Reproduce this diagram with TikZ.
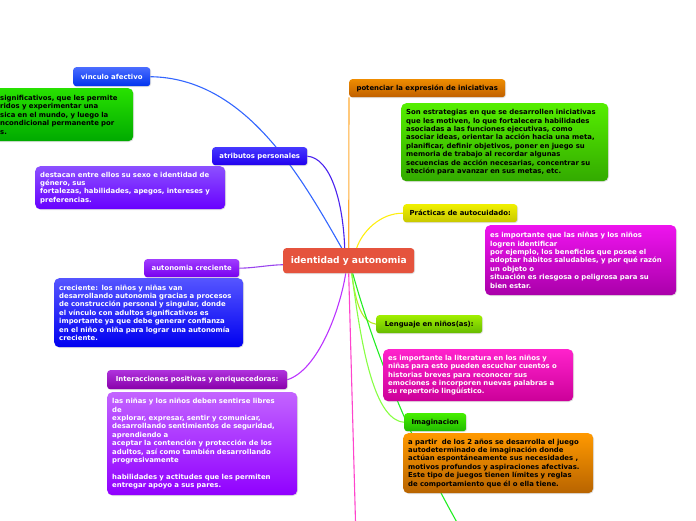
\documentclass[tikz,border=0pt]{standalone}
\usepackage{fontspec}
\setmainfont{DejaVu Sans}
\usetikzlibrary{shadows,backgrounds}

\definecolor{rootc}{HTML}{E5533D}
\definecolor{vincc}{HTML}{3366FF}
\definecolor{atric}{HTML}{4A22EE}
\definecolor{autoc}{HTML}{9944EE}
\definecolor{interc}{HTML}{BB33FF}
\definecolor{potc}{HTML}{FFAA33}
\definecolor{pracc}{HTML}{FFEE11}
\definecolor{lengc}{HTML}{B5EE22}
\definecolor{imagc}{HTML}{88FF44}
\definecolor{greenc}{HTML}{22EE22}
\definecolor{magc}{HTML}{FF44CC}

\begin{document}
\begin{tikzpicture}[x=1pt, y=-1pt,
    topic/.style={rectangle, rounded corners=3pt, anchor=north west, inner sep=2pt,
        font=\fontsize{6.9}{8.3}\selectfont\bfseries,
        drop shadow={shadow xshift=0.8pt, shadow yshift=-0.8pt, opacity=0.25}},
    note/.style={rectangle, rounded corners=5pt, anchor=north west, inner xsep=5pt,
        inner ysep=3pt, align=left, font=\fontsize{6.9}{8.4}\selectfont\bfseries,
        drop shadow={shadow xshift=0.8pt, shadow yshift=-0.8pt, opacity=0.25}},
    link/.style={line width=1.1pt}]
    \useasboundingbox (0,0) rectangle (696,520);

    % Central topic
    \node (root) [topic, minimum width=131pt, minimum height=25pt, fill=rootc, text=white,
        font=\fontsize{9.1}{10}\selectfont\bfseries] at (283,248) {identidad y autonomia};

    % Left branches
    \node (vinc) [topic, minimum width=77pt, minimum height=19pt, top color={rgb,255:red,74;green,108;blue,255}, bottom color={rgb,255:red,0;green,51;blue,238}, text=white] at (73,67) {vinculo afectivo};
    \node (vincN) [note, text width=125pt, inner xsep=8pt, minimum height=53pt, top color={rgb,255:red,40;green,225;blue,0}, bottom color={rgb,255:red,0;green,170;blue,0}, text=black] at (-8,88)
        {significativos, que les permite\\ridos y experimentar una\\sica en el mundo, y luego la\\ncondicional permanente por\\s.};

    \node (atri) [topic, minimum width=95pt, minimum height=18pt, top color={rgb,255:red,70;green,55;blue,255}, bottom color={rgb,255:red,34;green,0;blue,238}, text=white] at (212,147) {atributos personales};
    \node (atriN) [note, text width=180pt, minimum height=43pt, top color={rgb,255:red,140;green,80;blue,255}, bottom color={rgb,255:red,104;green,0;blue,255}, text=white] at (35,166)
        {destacan entre ellos su sexo e identidad de\\género, sus\\fortalezas, habilidades, apegos, intereses y\\preferencias.};

    \node (auto) [topic, minimum width=95pt, minimum height=18pt, top color={rgb,255:red,160;green,60;blue,255}, bottom color={rgb,255:red,119;green,0;blue,238}, text=white] at (144,259) {autonomia creciente};
    \node (autoN) [note, text width=179pt, minimum height=69pt, top color={rgb,255:red,85;green,85;blue,255}, bottom color={rgb,255:red,0;green,0;blue,240}, text=white] at (54,278)
        {creciente: los niños y niñas van\\desarrollando autonomia gracias a procesos\\de construcción personal y singular, donde\\el vínculo con adultos significativos es\\importante ya que debe generar confianza\\en el niño o niña para lograr una autonomía\\creciente.};

    \node (inter) [topic, minimum width=180pt, minimum height=19pt, top color={rgb,255:red,175;green,50;blue,220}, bottom color={rgb,255:red,136;green,0;blue,170}, text=white] at (107,370) {Interacciones positivas y enriquecedoras:};
    \node (interN) [note, text width=180pt, minimum height=103pt, top color={rgb,255:red,195;green,100;blue,255}, bottom color={rgb,255:red,144;green,0;blue,255}, text=white] at (107,392)
        {las niñas y los niños deben sentirse libres\\de\\explorar, expresar, sentir y comunicar,\\desarrollando sentimientos de seguridad,\\aprendiendo a\\aceptar la contención y protección de los\\adultos, así como también desarrollando\\progresivamente\\[8.4pt]habilidades y actitudes que les permiten\\entregar apoyo a sus pares.};

    % Right branches
    \node (pot) [topic, minimum width=156pt, minimum height=18pt, top color={rgb,255:red,238;green,140;blue,0}, bottom color={rgb,255:red,192;green,96;blue,0}, text=black] at (349,79) {potenciar la expresión de iniciativas};
    \node (potN) [note, text width=197pt, minimum height=78pt, top color={rgb,255:red,85;green,238;blue,0}, bottom color={rgb,255:red,51;green,170;blue,0}, text=black] at (401,103)
        {Son estrategias en que se desarrollen iniciativas\\que les motiven, lo que fortalecera habilidades\\asociadas a las funciones ejecutivas, como\\asociar ideas, orientar la acción hacia una meta,\\planificar, definir objetivos, poner en juego su\\memoria de trabajo al recordar algunas\\secuencias de acción necesarias, concentrar su\\ateción para avanzar en sus metas, etc.};

    \node (prac) [topic, minimum width=114pt, minimum height=18pt, top color={rgb,255:red,240;green,240;blue,0}, bottom color={rgb,255:red,200;green,200;blue,0}, text=black] at (403,204) {Prácticas de autocuidado:};
    \node (pracN) [note, text width=181pt, minimum height=70pt, top color={rgb,255:red,238;green,20;blue,238}, bottom color={rgb,255:red,170;green,0;blue,170}, text=white] at (485,225)
        {es importante que las niñas y los niños\\logren identificar\\por ejemplo, los beneficios que posee el\\adoptar hábitos saludables, y por qué razón\\un objeto o\\situación es riesgosa o peligrosa para su\\bien estar.};

    \node (leng) [topic, minimum width=106pt, minimum height=18pt, top color={rgb,255:red,160;green,238;blue,0}, bottom color={rgb,255:red,102;green,187;blue,0}, text=black] at (376,315) {Lenguaje en niños(as):};
    \node (lengN) [note, text width=180pt, minimum height=52pt, top color={rgb,255:red,255;green,34;blue,204}, bottom color={rgb,255:red,204;green,0;blue,153}, text=white] at (383,349)
        {es importante la literatura en los niños y\\niñas para esto pueden escuchar cuentos o\\historias breves para reconocer sus\\emociones e incorporen nuevas palabras a\\su repertorio lingüístico.};

    \node (imag) [topic, minimum width=62pt, minimum height=18pt, top color={rgb,255:red,70;green,238;blue,0}, bottom color={rgb,255:red,34;green,187;blue,0}, text=black] at (404,413) {Imaginacion};
    \node (imagN) [note, text width=180pt, minimum height=60pt, top color={rgb,255:red,255;green,153;blue,0}, bottom color={rgb,255:red,184;green,100;blue,0}, text=black] at (403,433)
        {a partir~ de los 2 años se desarrolla el juego\\autodeterminado de imaginación donde\\actúan espontáneamente sus necesidades ,\\motivos profundos y aspiraciones afectivas.\\Este tipo de juegos tienen límites y reglas\\de comportamiento que él o ella tiene.};

    % Branches leaving the page
    \coordinate (offM) at (356,540);
    \coordinate (offG) at (470,545);

    % Connectors
    \begin{pgfonlayer}{background}
    \draw[link, vincc] (vinc.east) .. controls (245,78) and (300,175) .. ([xshift=-7pt]root.north);
    \draw[link, atric] (atri.east) .. controls (330,158) and (343,200) .. ([xshift=-4pt]root.north);
    \draw[link, potc] (pot.south west) -- (root.north);
    \draw[link, pracc] (prac.west) .. controls (380,213) and (362,232) .. ([xshift=8pt]root.north);
    \draw[link, autoc] (auto.east) .. controls (255,268) and (268,265) .. ([yshift=-4pt]root.west);
    \draw[link, interc] (inter.east) .. controls (318,370) and (340,310) .. ([xshift=-3pt]root.south);
    \draw[link, magc] (root.south) -- (offM);
    \draw[link, lengc] ([xshift=3pt]root.south) .. controls (356,305) and (362,322) .. (leng.west);
    \draw[link, imagc] ([xshift=3pt]root.south) .. controls (360,335) and (372,420) .. (imag.west);
    \draw[link, greenc] ([xshift=4pt]root.south) .. controls (380,370) and (420,460) .. (offG);
    \end{pgfonlayer}
\end{tikzpicture}
\end{document}
